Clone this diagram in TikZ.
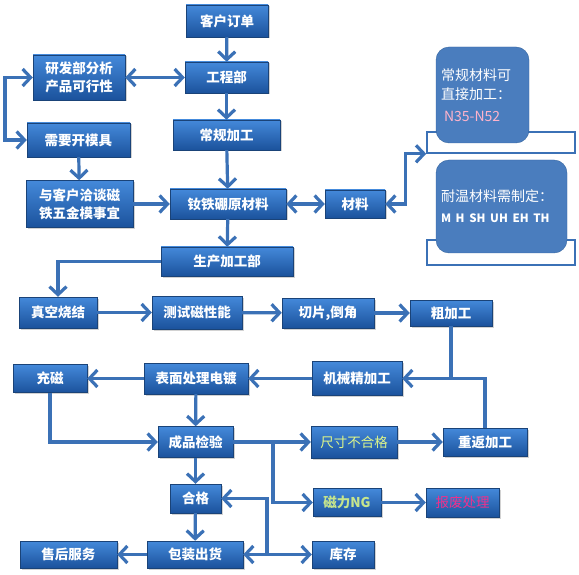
\documentclass[tikz,border=0pt]{standalone}
\usepackage{fontspec}
\setmainfont{Noto Sans CJK SC}
\usepackage{xcolor}
\usepackage{tikz}
\usetikzlibrary{shapes, arrows.meta, shadows}
\definecolor{boxtop}{HTML}{4489DA}
\definecolor{boxbot}{HTML}{1B529C}
\definecolor{boxedge}{HTML}{1A4378}
\definecolor{linec}{HTML}{3B71B6}
\definecolor{memofill}{HTML}{4A7DBE}
\definecolor{memoedge}{HTML}{35659F}
\definecolor{pinkc}{HTML}{FFB3CB}
\definecolor{greenc}{HTML}{DDF58A}
\definecolor{ngc}{HTML}{C6E58C}
\definecolor{redc}{HTML}{F0308C}
\tikzstyle{block} = [draw=boxedge, rectangle, top color=boxtop, bottom color=boxbot, text=white, align=center, inner sep=0pt, font=\bfseries\fontsize{13.5}{18}\selectfont, drop shadow={shadow xshift=1.5pt, shadow yshift=-1.5pt, fill=black!35}]
\tikzstyle{memo} = [draw=memoedge, fill=memofill, rectangle, rounded corners=13pt, text=white, align=left, inner sep=5pt, font=\fontsize{14}{19}\selectfont]
\tikzstyle{bracket} = [draw=linec, rectangle, line width=1.6pt, inner sep=0pt]
\tikzstyle{line} = [draw=linec, line width=3.2pt]

\begin{document}
\begin{tikzpicture}[x=1pt, y=-1pt, >={Straight Barb[length=8pt,width=17pt]}]
    \useasboundingbox (0,0) rectangle (579,575);

    % 放置节点
    \node [block, minimum width=82pt, minimum height=32pt] (kehu) at (227,21) {客户订单};
    \node [block, minimum width=92pt, minimum height=45pt] (yanfa) at (79,77.5) {研发部分析\\产品可行性};
    \node [block, minimum width=83pt, minimum height=31pt] (gongcheng) at (226.5,77.5) {工程部};
    \node [block, minimum width=107pt, minimum height=30pt] (changgui) at (226.5,135) {常规加工};
    \node [block, minimum width=103pt, minimum height=34pt] (kaimo) at (78.5,140) {需要开模具};
    \node [block, minimum width=107pt, minimum height=47pt] (qiatan) at (79.5,204) {与客户洽谈磁\\铁五金模事宜};
    \node [block, minimum width=116pt, minimum height=30pt] (ndfeb) at (228,204) {钕铁硼原材料};
    \node [block, minimum width=60pt, minimum height=28pt] (cailiao) at (355,204) {材料};
    \node [block, minimum width=132pt, minimum height=29pt] (shengchan) at (227,261.5) {生产加工部};

    \node [bracket, minimum width=148pt, minimum height=21pt] (br1) at (501,142.5) {};
    \node [memo, minimum width=93pt, minimum height=96pt, text width=83pt] (chang) at (482.5,95) {常规材料可\\直接加工：\\[3pt]\hspace*{3pt}{\color{pinkc}N35-N52}};
    \node [bracket, minimum width=148pt, minimum height=25pt] (br2) at (501,252.5) {};
    \node [memo, minimum width=131pt, minimum height=93pt, text width=121pt] (naiwen) at (501.5,206.5) {耐温材料需制定：\\[2pt]{\bfseries\fontsize{11.5}{14}\selectfont M H SH UH EH TH}};

    \node [block, minimum width=78pt, minimum height=31pt] (zhenkong) at (58,312.5) {真空烧结};
    \node [block, minimum width=90pt, minimum height=33pt] (ceshi) at (197,312.5) {测试磁性能};
    \node [block, minimum width=92pt, minimum height=30pt] (qiepian) at (328,313) {切片,倒角};
    \node [block, minimum width=82pt, minimum height=26pt] (cujiagong) at (451,313) {粗加工};
    \node [block, minimum width=90pt, minimum height=34pt] (jixie) at (357,378.5) {机械精加工};
    \node [block, minimum width=104pt, minimum height=31pt] (biaomian) at (196,378.5) {表面处理电镀};
    \node [block, minimum width=74pt, minimum height=28pt] (chongci) at (50,378.5) {充磁};
    \node [block, minimum width=75pt, minimum height=31pt] (chengpin) at (195.5,442) {成品检验};
    \node [block, minimum width=86pt, minimum height=32pt, text=greenc, font=\fontsize{13.5}{18}\selectfont] (chicun) at (354,442) {尺寸不合格};
    \node [block, minimum width=84pt, minimum height=28pt] (chongfan) at (485,442) {重返加工};
    \node [block, minimum width=51pt, minimum height=29pt] (hege) at (195.5,498.5) {合格};
    \node [block, minimum width=68pt, minimum height=28pt, text=ngc] (cili) at (347,502.5) {磁力NG};
    \node [block, minimum width=73pt, minimum height=29pt, text=redc, font=\fontsize{13.5}{18}\selectfont] (baofei) at (462.5,502.5) {报废处理};
    \node [block, minimum width=96pt, minimum height=27pt] (baozhuang) at (195,554.5) {包装出货};
    \node [block, minimum width=97pt, minimum height=27pt] (shouhou) at (68.5,554.5) {售后服务};
    \node [block, minimum width=62pt, minimum height=27pt] (kucun) at (343,554.5) {库存};

    \coordinate (huan) at (5,77.5);
    \coordinate (cuxia) at (451,378.5);
    \coordinate (fenzhi) at (273,442);
    \coordinate (kuxian) at (267,554.5);

    % 连线
    \draw [line, ->] (kehu) -- (gongcheng);
    \draw [line, <->] (yanfa) -- (gongcheng);
    \draw [line, ->] (gongcheng) -- (changgui);
    \draw [line, ->] (changgui) -- (ndfeb);
    \draw [line, <->] (yanfa.west) -- (huan) |- (kaimo.west);
    \draw [line, ->] (kaimo) -- (qiatan);
    \draw [line, ->] (qiatan) -- (ndfeb);
    \draw [line, <->] (ndfeb) -- (cailiao);
    \draw [line, <->] (cailiao.east) -- ++(20,0) |- (br1.south west);
    \draw [line, ->] (ndfeb) -- (shengchan);
    \draw [line, ->] (shengchan.west) -| (zhenkong.north);
    \draw [line, ->] (zhenkong) -- (ceshi);
    \draw [line, ->] (ceshi) -- (qiepian);
    \draw [line, ->] (qiepian) -- (cujiagong);
    \draw [line, ->] (cujiagong.south) -- (cuxia) -- (jixie.east);
    \draw [line] (chongfan.north) |- (cuxia);
    \draw [line, ->] (jixie) -- (biaomian);
    \draw [line, ->] (biaomian) -- (chongci);
    \draw [line, ->] (biaomian) -- (chengpin);
    \draw [line, ->] (chongci.south) |- (chengpin.west);
    \draw [line, ->] (chengpin) -- (chicun);
    \draw [line, ->] (fenzhi) |- (cili.west);
    \draw [line, ->] (chicun) -- (chongfan);
    \draw [line, ->] (cili) -- (baofei);
    \draw [line, ->] (chengpin) -- (hege);
    \draw [line, ->] (hege) -- (baozhuang);
    \draw [line, ->] (baozhuang) -- (shouhou);
    \draw [line, ->] (kuxian) |- (hege.east);
    \draw [line, ->] (kuxian) -- (baozhuang.east);
    \draw [line, ->] (kuxian) -- (kucun.west);
\end{tikzpicture}
\end{document}
